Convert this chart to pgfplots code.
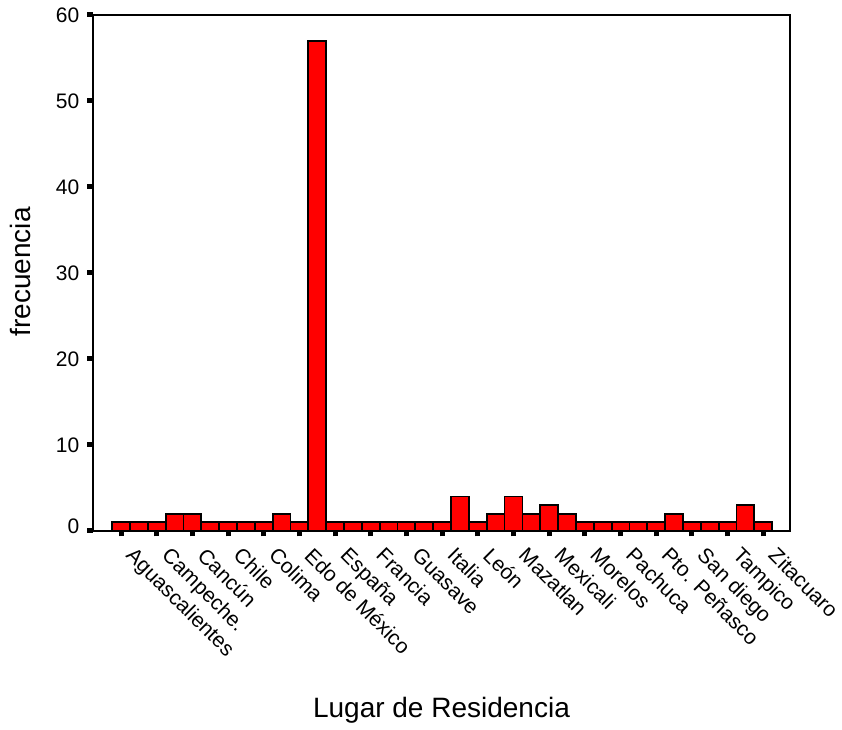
\documentclass[border=0pt]{standalone}
\usepackage{pgfplots}
\pgfplotsset{compat=1.18}
\usepackage{fontspec}
\setmainfont{Liberation Sans}
\definecolor{barred}{RGB}{255,0,0}
\begin{document}
\begin{tikzpicture}
\begin{axis}[
  name=ax,
  scale only axis,
  width=697pt, height=516pt,
  xmin=-0.57, xmax=38.5,
  ymin=0, ymax=60,
  ytick={0,10,...,60},
  yticklabels={\raisebox{9pt}{0},10,20,30,40,50,60},
  xtick={1,3,...,37},
  xticklabels={Aguascalientes,Campeche.,Cancún,Chile,Colima,Edo de México,España,Francia,Guasave,Italia,León,Mazatlan,Mexicali,Morelos,Pachuca,Pto. Peñasco,San diego,Tampico,Zitacuaro},
  tick pos=left,
  tick align=outside,
  major tick length=5.5pt,
  tick style={line width=5pt,black},
  axis line style={line width=2pt},
  /pgf/number format/assume math mode=true,
  ticklabel style={font=\fontsize{21}{25}\selectfont},
  xticklabel style={xshift=15pt, yshift=-8pt, rotate=-45, anchor=north west, inner sep=1pt},
  yticklabel style={inner sep=2pt, xshift=-6pt},
  xlabel={Lugar de Residencia},
  ylabel={frecuencia},
  label style={font=\fontsize{28}{32}\selectfont},
  xlabel style={at={(axis description cs:0.5,-0.3624)}, anchor=base},
  ylabel style={at={(axis description cs:-0.1047,0.502)}, anchor=center},
  ybar, bar width=1,
]
\addplot[fill=barred, draw=black, line width=1.8pt] coordinates {
(1,1) (2,1) (3,1) (4,2) (5,2) (6,1) (7,1) (8,1) (9,1) (10,2)
(11,1) (12,57) (13,1) (14,1) (15,1) (16,1) (17,1) (18,1) (19,1) (20,4)
(21,1) (22,2) (23,4) (24,2) (25,3) (26,2) (27,1) (28,1) (29,1) (30,1)
(31,1) (32,2) (33,1) (34,1) (35,1) (36,3) (37,1)
};
\end{axis}
\pgfresetboundingbox
\path[use as bounding box] ([shift={(-93pt,-199pt)}]ax.south west) rectangle ([shift={(52pt,15pt)}]ax.north east);
\end{tikzpicture}
\end{document}
